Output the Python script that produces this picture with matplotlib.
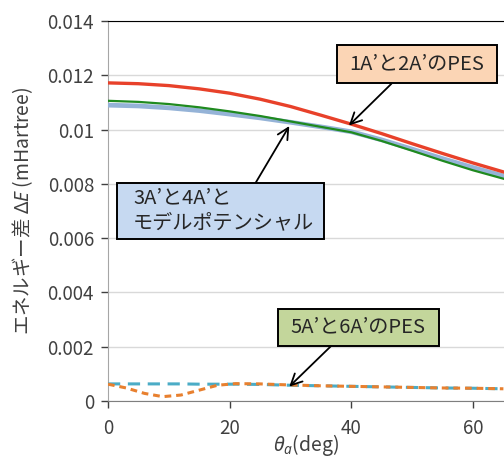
import matplotlib.pyplot as plt
from matplotlib.patches import Rectangle

plt.rcParams['font.family'] = ['Noto Sans CJK JP', 'DejaVu Sans']
plt.rcParams['mathtext.fontset'] = 'custom'
plt.rcParams['mathtext.rm'] = 'Noto Sans'
plt.rcParams['mathtext.it'] = 'Noto Sans:italic'

# degrees
theta = [0, 5, 10, 15, 20, 25, 30, 35, 40, 45, 50, 55, 60, 65]
pes_12 = [0.01172, 0.01169, 0.01162, 0.01150, 0.01134, 0.01112, 0.01085,
          0.01053, 0.01020, 0.00985, 0.00948, 0.00912, 0.00877, 0.00844]
pes_34 = [0.01106, 0.01102, 0.01094, 0.01082, 0.01067, 0.01050, 0.01030,
          0.01010, 0.00990, 0.00958, 0.00922, 0.00885, 0.00850, 0.00819]
model = [0.01090, 0.01087, 0.01080, 0.01070, 0.01057, 0.01043, 0.01027,
         0.01010, 0.00992, 0.00962, 0.00928, 0.00893, 0.00860, 0.00829]

theta_low = [0, 3, 6, 9, 12, 15, 18, 21, 25, 30, 35, 40, 45, 50, 55, 60, 65]
pes_56_a = [0.00063, 0.00063, 0.00063, 0.00063, 0.00063, 0.00062, 0.00062, 0.00062,
            0.00061, 0.00058, 0.00056, 0.00054, 0.00052, 0.00050, 0.00048, 0.00047, 0.00045]
pes_56_b = [0.00062, 0.00048, 0.00028, 0.00016, 0.00022, 0.00040, 0.00058, 0.00064,
            0.00063, 0.00059, 0.00056, 0.00054, 0.00052, 0.00050, 0.00048, 0.00047, 0.00045]

fig = plt.figure(figsize=(5.04, 4.59), dpi=100)
ax = fig.add_axes([108 / 504, 1 - 401 / 459, 1 - 108 / 504, (401 - 21) / 459])

ax.plot(theta, model, color='#95b3d7', lw=3.4, zorder=3)
ax.plot(theta, pes_34, color='#1f8a1f', lw=1.6, zorder=4)
ax.plot(theta, pes_12, color='#e8412a', lw=2.4, zorder=5)
ax.plot(theta_low, pes_56_a, color='#4bacc6', lw=2.2, ls=(0, (4, 2.5)), zorder=4)
ax.plot(theta_low, pes_56_b, color='#e8802f', lw=2.2, ls=(0, (2.2, 1.6)), zorder=5)

ax.set_xlim(0, 65.1)
ax.set_ylim(0, 0.014)
ax.set_xticks([0, 20, 40, 60])
ax.set_yticks([0, 0.002, 0.004, 0.006, 0.008, 0.01, 0.012, 0.014])
ax.set_yticklabels(['0', '0.002', '0.004', '0.006', '0.008', '0.01', '0.012', '0.014'])
ax.tick_params(axis='both', labelsize=13.5, colors='#404040', length=5, width=1, direction='out')
ax.tick_params(axis='x', pad=7)
ax.tick_params(axis='y', pad=5)
ax.grid(axis='y', color='#d9d9d9', lw=1)
ax.set_axisbelow(True)
ax.spines['right'].set_visible(False)
ax.spines['top'].set_color('black')
ax.spines['left'].set_color('#a6a6a6')
ax.spines['bottom'].set_color('#7f7f7f')

ax.set_xlabel(r'$\mathit{\theta_a}$(deg)', fontsize=14, color='#404040', labelpad=-5)
ax.set_ylabel(r'エネルギー差 $\mathit{\Delta E}$ (mHartree)', fontsize=14, color='#404040', labelpad=9)

# callout boxes: (x0, x1, y0, y1, colour)
boxes = [
    (37.6, 63.9, 0.01171, 0.01311, '#fbd5b5'),
    (1.5, 35.5, 0.00597, 0.00803, '#c6d9f1'),
    (27.9, 54.4, 0.00203, 0.00339, '#c3d69b'),
]
for x0, x1, y0, y1, fc in boxes:
    ax.add_patch(Rectangle((x0, y0), x1 - x0, y1 - y0, fc=fc, ec='black', lw=1.4, zorder=10))

txt = dict(fontsize=14.5, color='#262626', va='center', zorder=11)
ax.text(50.75, 0.01243, "1A’と2A’のPES", ha='center', **txt)
ax.text(4.1, 0.00702, "3A’と4A’と\nモデルポテンシャル", ha='left', linespacing=1.25, **txt)
ax.text(41.15, 0.00273, "5A’と6A’のPES", ha='center', **txt)

arrow = dict(arrowstyle='->', color='black', lw=1.3, mutation_scale=20, shrinkA=0, shrinkB=0)
ax.annotate('', xy=(39.6, 0.01015), xytext=(46.6, 0.01169), arrowprops=arrow, zorder=12)
ax.annotate('', xy=(29.8, 0.01013), xytext=(24.3, 0.00805), arrowprops=arrow, zorder=12)
ax.annotate('', xy=(29.8, 0.00053), xytext=(36.6, 0.00201), arrowprops=arrow, zorder=12)

fig.savefig('out.png', dpi=100)
